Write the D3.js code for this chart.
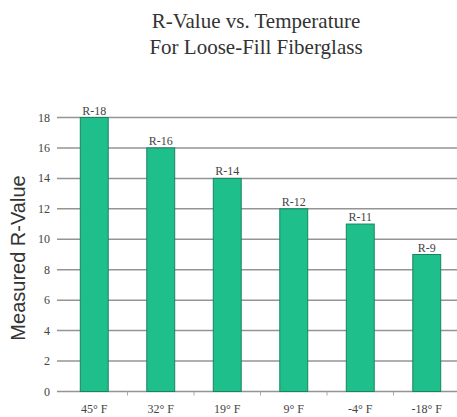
<!DOCTYPE html>
<html>
<head>
<meta charset="utf-8">
<script src="https://cdn.jsdelivr.net/npm/d3@7"></script>
<style>
  body { margin: 0; background: #fff; }
  svg { display: block; }
  .serif { font-family: "Liberation Serif", "Times New Roman", serif; }
</style>
</head>
<body>
<svg id="chart" width="457" height="417"></svg>
<script>
// chart data
var temps = ['45° F', '32° F', '19° F', '9° F', '-4° F', '-18° F'];
var rValues = [18, 16, 14, 12, 11, 9];
var barLabels = ['R-18', 'R-16', 'R-14', 'R-12', 'R-11', 'R-9'];
var yTicks = [0, 2, 4, 6, 8, 10, 12, 14, 16, 18];

var svg = d3.select('#chart');

// plot area
var plotLeft = 61, plotRight = 460, plotTop = 117.5, plotBottom = 391.5;

var x = d3.scaleBand()
  .domain(temps)
  .range([plotLeft, plotRight])
  .paddingInner(0.58)
  .paddingOuter(0.29);

var y = d3.scaleLinear()
  .domain([0, 18])
  .range([plotBottom, plotTop]);

// title
var title = svg.append('text')
  .attr('class', 'serif')
  .attr('text-anchor', 'middle')
  .style('font-size', '21px')
  .style('fill', '#333');
title.append('tspan').attr('x', 256).attr('y', 28).text('R-Value vs. Temperature');
title.append('tspan').attr('x', 256).attr('y', 54).text('For Loose-Fill Fiberglass');

// gridlines (every 2 units)
svg.append('g')
  .selectAll('line')
  .data(yTicks)
  .enter().append('line')
  .attr('x1', plotLeft - 4)
  .attr('x2', 457)
  .attr('y1', function(d){ return y(d); })
  .attr('y2', function(d){ return y(d); })
  .attr('stroke', '#949494')
  .attr('stroke-width', 1.5);

// y tick labels
svg.append('g')
  .selectAll('text')
  .data(yTicks)
  .enter().append('text')
  .attr('class', 'serif')
  .attr('x', 50)
  .attr('y', function(d){ return y(d) + 4; })
  .attr('text-anchor', 'end')
  .style('font-size', '12px')
  .style('fill', '#444')
  .text(function(d){ return d; });

// small x ticks between categories
svg.append('g')
  .selectAll('line')
  .data(temps.slice(1))
  .enter().append('line')
  .attr('x1', function(d){ return x(d) - x.step() * x.paddingInner() / 2; })
  .attr('x2', function(d){ return x(d) - x.step() * x.paddingInner() / 2; })
  .attr('y1', plotBottom)
  .attr('y2', plotBottom + 4)
  .attr('stroke', '#aaa')
  .attr('stroke-width', 1);

// bars
svg.append('g')
  .selectAll('rect')
  .data(rValues)
  .enter().append('rect')
  .attr('x', function(d, i){ return x(temps[i]); })
  .attr('y', function(d){ return y(d); })
  .attr('width', x.bandwidth())
  .attr('height', function(d){ return plotBottom - y(d); })
  .attr('fill', '#1fbf8c')
  .attr('stroke', '#17855f')
  .attr('stroke-width', 1);

// bar labels
svg.append('g')
  .selectAll('text')
  .data(rValues)
  .enter().append('text')
  .attr('class', 'serif')
  .attr('x', function(d, i){ return x(temps[i]) + x.bandwidth() / 2; })
  .attr('y', function(d){ return y(d) - 3; })
  .attr('text-anchor', 'middle')
  .style('font-size', '12px')
  .style('fill', '#444')
  .text(function(d, i){ return barLabels[i]; });

// x labels
svg.append('g')
  .selectAll('text')
  .data(temps)
  .enter().append('text')
  .attr('class', 'serif')
  .attr('x', function(d){ return x(d) + x.bandwidth() / 2; })
  .attr('y', 413)
  .attr('text-anchor', 'middle')
  .style('font-size', '12px')
  .style('fill', '#444')
  .text(function(d){ return d; });

// y axis title
svg.append('text')
  .attr('transform', 'translate(25,258) rotate(-90)')
  .attr('text-anchor', 'middle')
  .style('font-family', '"Liberation Sans", Arial, sans-serif')
  .style('font-size', '20px')
  .style('fill', '#333')
  .text('Measured R-Value');
</script>
</body>
</html>
